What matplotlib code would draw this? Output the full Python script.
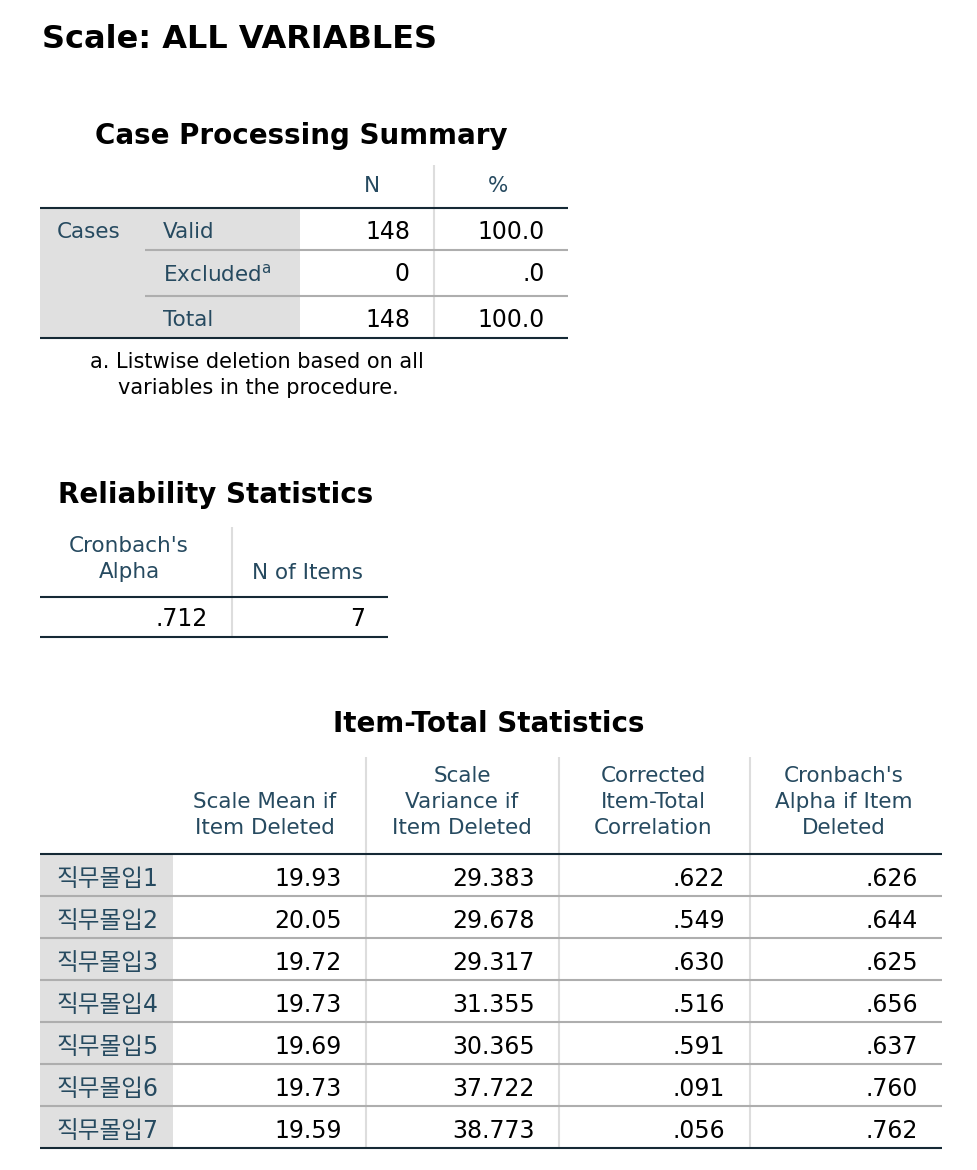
import matplotlib.pyplot as plt
from matplotlib.patches import Rectangle

plt.rcParams['font.family'] = ['DejaVu Sans', 'Noto Sans CJK KR']

# Case Processing Summary
case_rows = ['Valid', 'Excluded', 'Total']
case_n = [148, 0, 148]
case_pct = [100.0, 0.0, 100.0]

# Reliability Statistics
cronbach_alpha = 0.712
n_items = 7

# Item-Total Statistics
item_labels = ['직무몰입1', '직무몰입2', '직무몰입3', '직무몰입4', '직무몰입5', '직무몰입6', '직무몰입7']
scale_mean = [19.93, 20.05, 19.72, 19.73, 19.69, 19.73, 19.59]
scale_var = [29.383, 29.678, 29.317, 31.355, 30.365, 37.722, 38.773]
item_total_corr = [0.622, 0.549, 0.630, 0.516, 0.591, 0.091, 0.056]
alpha_if_deleted = [0.626, 0.644, 0.625, 0.656, 0.637, 0.760, 0.762]
item_headers = [['Scale Mean if', 'Item Deleted'],
                ['Scale', 'Variance if', 'Item Deleted'],
                ['Corrected', 'Item-Total', 'Correlation'],
                ["Cronbach's", 'Alpha if Item', 'Deleted']]

HEAD = '#264a60'
DARK = '#152935'
LIGHT = '#aeaeae'
VLINE = '#dddddd'
GREY = '#e0e0e0'


def spss(v, d):
    s = f'{v:.{d}f}'
    if s.startswith('0.'):
        s = s[1:]
    return s


fig = plt.figure(figsize=(9.78, 11.7), dpi=100)
ax = fig.add_axes([0, 0, 1, 1])
ax.set_xlim(0, 978)
ax.set_ylim(1170, 0)
ax.axis('off')

ax.text(42, 40, 'Scale: ALL VARIABLES', fontsize=23, fontweight='bold', va='center')

# ---- Case Processing Summary
ax.text(301, 136, 'Case Processing Summary', fontsize=20, fontweight='bold', ha='center', va='center')
ax.add_patch(Rectangle((40, 208), 260, 130, color=GREY, lw=0))
ax.vlines(434, 165, 338, color=VLINE, lw=1.5)
ax.text(372, 186, 'N', fontsize=15.5, color=HEAD, ha='center', va='center')
ax.text(498, 186, '%', fontsize=15.5, color=HEAD, ha='center', va='center')
row_y = [232, 274, 320]
for i, lab in enumerate(case_rows):
    txt = 'Excluded$^{\\mathregular{a}}$' if lab == 'Excluded' else lab
    ax.text(163, row_y[i], txt, fontsize=15.5, color=HEAD, va='center')
    ax.text(410, row_y[i], str(case_n[i]), fontsize=17, ha='right', va='center')
    ax.text(545, row_y[i], spss(case_pct[i], 1), fontsize=17, ha='right', va='center')
ax.text(57, 232, 'Cases', fontsize=15.5, color=HEAD, va='center')
ax.hlines([250, 296], 145, 568, color=LIGHT, lw=1.5)
ax.hlines([208, 338], 40, 568, color=DARK, lw=1.5)
ax.text(90, 362, 'a. Listwise deletion based on all', fontsize=15, va='center')
ax.text(118, 388, 'variables in the procedure.', fontsize=15, va='center')

# ---- Reliability Statistics
ax.text(58, 495, 'Reliability Statistics', fontsize=20, fontweight='bold', va='center')
ax.vlines(232, 527, 637, color=VLINE, lw=1.5)
ax.text(129, 546, "Cronbach's", fontsize=15.5, color=HEAD, ha='center', va='center')
ax.text(129, 572, 'Alpha', fontsize=15.5, color=HEAD, ha='center', va='center')
ax.text(307, 573, 'N of Items', fontsize=15.5, color=HEAD, ha='center', va='center')
ax.text(208, 619, spss(cronbach_alpha, 3), fontsize=17, ha='right', va='center')
ax.text(365, 619, str(n_items), fontsize=17, ha='right', va='center')
ax.hlines([597, 637], 40, 388, color=DARK, lw=1.5)

# ---- Item-Total Statistics
ax.text(489, 724, 'Item-Total Statistics', fontsize=20, fontweight='bold', ha='center', va='center')
top, rh = 854, 42
n = len(item_labels)
ax.add_patch(Rectangle((40, top), 133, rh * n, color=GREY, lw=0))
ax.vlines([366, 559, 750], 757, top + rh * n, color=VLINE, lw=1.5)
col_c = [265, 462, 653, 844]
col_r = [342, 535, 725, 918]
for c, lines in enumerate(item_headers):
    for k, line in enumerate(reversed(lines)):
        ax.text(col_c[c], 828 - 26 * k, line, fontsize=15.5, color=HEAD, ha='center', va='center')
cols = [[f'{v:.2f}' for v in scale_mean],
        [f'{v:.3f}' for v in scale_var],
        [spss(v, 3) for v in item_total_corr],
        [spss(v, 3) for v in alpha_if_deleted]]
for i, lab in enumerate(item_labels):
    y = top + rh * i + rh / 2 + 4
    ax.text(57, y, lab, fontsize=17, color=HEAD, va='center')
    for c in range(4):
        ax.text(col_r[c], y, cols[c][i], fontsize=17, ha='right', va='center')
ax.hlines([top + rh * i for i in range(1, n)], 40, 942, color=LIGHT, lw=1.5)
ax.hlines([top, top + rh * n], 40, 942, color=DARK, lw=1.5)

fig.savefig('out.png', dpi=100, facecolor='white')
